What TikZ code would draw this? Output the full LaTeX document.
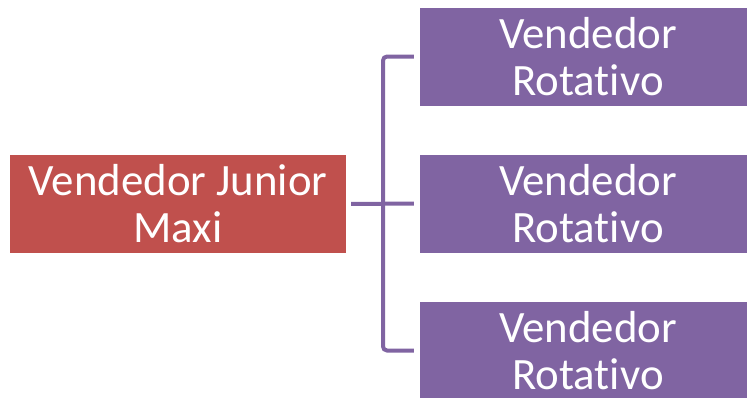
\documentclass[tikz,border=0pt]{standalone}
\usepackage{fontspec}
\setmainfont[Ligatures=NoCommon]{Carlito}
\definecolor{juniorred}{RGB}{192, 80, 77}
\definecolor{rotpurple}{RGB}{128, 100, 162}
\usetikzlibrary{positioning, calc}

\begin{document}
\begin{tikzpicture}[
  x=1bp, y=-1bp,
  rbox/.style={fill, text=white, align=center, inner sep=0pt, minimum width=336bp, minimum height=98bp, font=\fontsize{45}{47}\selectfont},
  link/.style={draw=rotpurple, line width=4bp}
]
  \useasboundingbox (0,0) rectangle (747,397);
  \clip (0,0) rectangle (747,397);

  \node[rbox, fill=juniorred] (junior) at (178, 204) {
    Vendedor Junior\\
    Maxi
  };
  \node[rbox, fill=rotpurple] (rot1) at (588, 56.5) {
    Vendedor\\
    Rotativo
  };
  \node[rbox, fill=rotpurple] (rot2) at (588, 203.5) {
    Vendedor\\
    Rotativo
  };
  \node[rbox, fill=rotpurple] (rot3) at (588, 350.5) {
    Vendedor\\
    Rotativo
  };

  \coordinate (bus) at (383, 204);
  \draw[link, shorten <=5bp, shorten >=6bp] (junior.east) -- (rot2.west);
  \draw[link, rounded corners=4bp, shorten <=6bp, shorten >=6bp] (rot1.west) -| (bus) |- (rot3.west);
\end{tikzpicture}
\end{document}
